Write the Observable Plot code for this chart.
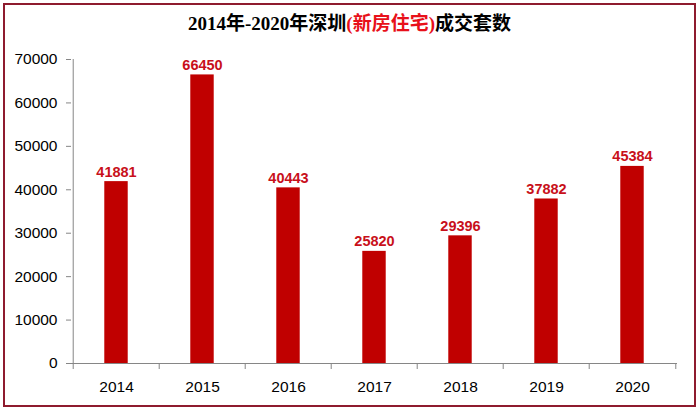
<!DOCTYPE html>
<html><head><meta charset="utf-8">
<script src="https://cdn.jsdelivr.net/npm/d3@7"></script>
<script src="https://cdn.jsdelivr.net/npm/@observablehq/plot@0.6"></script>
<style>
body{margin:0;background:#fff;}
#wrap{position:relative;width:699px;height:410px;overflow:hidden;background:#fff;}
#frame{position:absolute;left:3px;top:3px;width:689px;height:400px;border:2px solid #8e1b2e;pointer-events:none;}
#title{position:absolute;left:0;top:12px;width:699px;text-align:center;font-weight:bold;font-size:19px;font-family:"Liberation Serif","Noto Sans CJK SC",serif;line-height:24px;color:#000;}
#chart{position:absolute;left:0;top:44px;}
</style></head><body>
<div id="wrap">
<div id="title"><span>2014年-2020年深圳</span><span style="color:#e8101a">(新房住宅)</span><span>成交套数</span></div>
<div id="chart"></div>
<div id="frame"></div>
</div>
<script>
const years = ["2014","2015","2016","2017","2018","2019","2020"];
const values = [41881,66450,40443,25820,29396,37882,45384];
const yTicks = [0,10000,20000,30000,40000,50000,60000,70000];

const data = years.map((y,i)=>({year:y, value:values[i]}));
const W = 699, H = 366, mL = 71, mR = 22, mT = 15, mB = 47;
const step = (W - mL - mR) / years.length;
const barW = 24;
const inset = (step - barW) / 2;
const axisColor = "#868686";

const chart = Plot.plot({
  width: W, height: H,
  marginLeft: mL, marginRight: mR, marginTop: mT, marginBottom: mB,
  style: {fontFamily: "'Liberation Sans', Arial, sans-serif", fontSize: "15.5px", color: "#000", background: "#fff", overflow: "visible"},
  x: {domain: years, padding: 0, label: null},
  y: {domain: [0, 70000], label: null},
  marks: [
    Plot.barY(data, {x: "year", y: "value", fill: "#c00000", insetLeft: inset, insetRight: inset}),
    Plot.ruleY([0], {stroke: axisColor}),
    Plot.ruleX([years[0]], {x: d => d, dx: -step/2, stroke: axisColor}),
    Plot.ruleX(years, {x: d => d, dx: -step/2, y1: 0, y2: 0, insetBottom: -6, stroke: axisColor}),
    Plot.ruleX([years[years.length-1]], {x: d => d, dx: step/2, y1: 0, y2: 0, insetBottom: -6, stroke: axisColor}),
    Plot.axisY({ticks: yTicks, tickSize: 5, tickPadding: 9, stroke: axisColor, fill: "#000", tickFormat: d => String(d), label: null}),
    Plot.axisX({tickSize: 0, tickPadding: 17, fill: "#000", label: null}),
    Plot.text(data, {x: "year", y: "value", text: d => String(d.value), lineAnchor: "bottom", dy: -5,
      fill: "#c8101a", fontWeight: "bold", fontSize: 14.5, fontFamily: "'Liberation Sans', Arial, sans-serif"})
  ]
});
document.getElementById("chart").appendChild(chart);
</script>
</body></html>
